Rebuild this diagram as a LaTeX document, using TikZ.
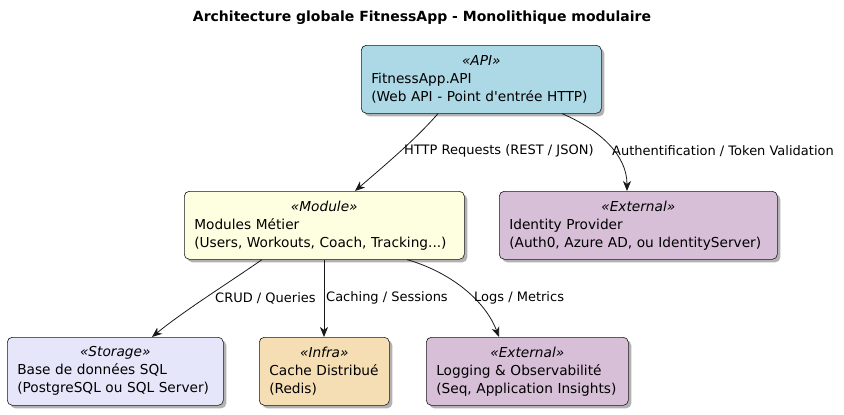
\documentclass[tikz,border=0pt]{standalone}
\usepackage{fontspec}
\setmainfont{DejaVu Sans}
\usetikzlibrary{shadows,arrows.meta}
\definecolor{capi}{HTML}{ADD8E6}
\definecolor{cmod}{HTML}{FEFEE0}
\definecolor{cext}{HTML}{D8BFD8}
\definecolor{csto}{HTML}{E6E6FA}
\definecolor{cinf}{HTML}{F5DEB3}
\definecolor{cline}{HTML}{181818}
\tikzset{
  comp/.style={draw=cline, line width=0.6pt, rounded corners=5pt, anchor=north west,
    inner xsep=10pt, inner ysep=0pt, align=left,
    font=\fontsize{13.7}{18}\selectfont,
    drop shadow={shadow xshift=3pt, shadow yshift=-3pt, fill=black, opacity=0.3}},
  conn/.style={draw=cline, line width=0.8pt, -{Stealth[length=10pt,width=8pt,inset=3pt]}},
  lbl/.style={anchor=west, inner sep=0pt, font=\fontsize{13}{15}\selectfont}
}
\newcommand{\stereo}[1]{\makebox[\linewidth][c]{\itshape «#1»}\\}
\newcommand{\myln}[1]{\mbox{#1}}
\begin{document}
\begin{tikzpicture}[x=1pt,y=-1pt]
\useasboundingbox (0,0) rectangle (844,415);
\node[inner sep=0pt, font=\bfseries\fontsize{14}{16}\selectfont] (title) at (422,18) {Architecture globale FitnessApp - Monolithique modulaire};

\node[comp, fill=capi, text width=220pt, minimum height=68pt] (api) at (361,45)
  {\stereo{API}\myln{FitnessApp.API}\\\myln{(Web API - Point d\textquotesingle entrée HTTP)}};
\node[comp, fill=cmod, text width=260pt, minimum height=68pt] (mod) at (184,191)
  {\stereo{Module}\myln{Modules Métier}\\\myln{(Users, Workouts, Coach, Tracking...)}};
\node[comp, fill=cext, text width=258pt, minimum height=68pt] (idp) at (499,191)
  {\stereo{External}\myln{Identity Provider}\\\myln{(Auth0, Azure AD, ou IdentityServer)}};
\node[comp, fill=csto, text width=196pt, minimum height=68pt] (sto) at (7,337)
  {\stereo{Storage}\myln{Base de données SQL}\\\myln{(PostgreSQL ou SQL Server)}};
\node[comp, fill=cinf, text width=110pt, minimum height=68pt] (inf) at (259,337)
  {\stereo{Infra}\myln{Cache Distribué}\\\myln{(Redis)}};
\node[comp, fill=cext, text width=182pt, minimum height=68pt] (log) at (426,337)
  {\stereo{External}\myln{Logging \& Observabilité}\\\myln{(Seq, Application Insights)}};

\draw[conn] ([xshift=77pt]api.south west) .. controls (415,140) and (385,165) .. ([xshift=171pt]mod.north west);
\draw[conn] ([xshift=201pt]api.south west) .. controls (600,130) and (627,155) .. ([xshift=128pt]idp.north west);
\draw[conn] ([xshift=78pt]mod.south west) .. controls (230,282) and (185,310) .. ([xshift=145pt]sto.north west);
\draw[conn] ([xshift=140pt]mod.south west) -- ([xshift=65pt]inf.north west);
\draw[conn] ([xshift=223pt]mod.south west) .. controls (450,272) and (485,300) .. ([xshift=73pt]log.north west);

\node[lbl] (l1) at (404,151) {HTTP Requests (REST / JSON)};
\node[lbl] (l2) at (612,151) {Authentification / Token Validation};
\node[lbl] (l3) at (215,298) {CRUD / Queries};
\node[lbl] (l4) at (326,298) {Caching / Sessions};
\node[lbl] (l5) at (474,298) {Logs / Metrics};
\end{tikzpicture}
\end{document}
